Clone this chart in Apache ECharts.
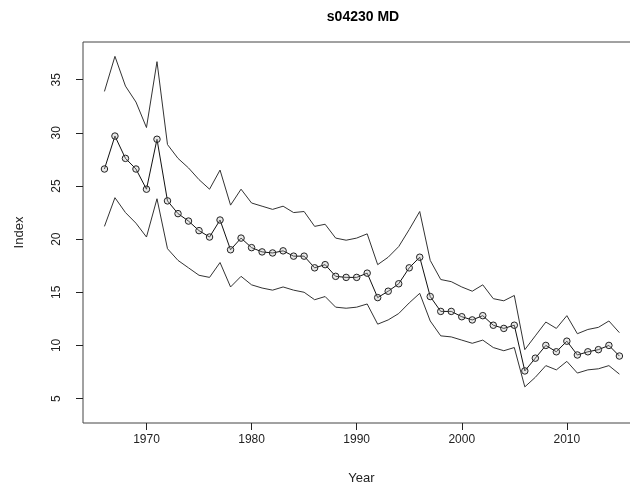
<!DOCTYPE html>
<html>
<head>
<meta charset="utf-8">
<script src="https://cdn.jsdelivr.net/npm/echarts@6/dist/echarts.min.js"></script>
<style>html,body{margin:0;padding:0;background:#fff}#c{width:630px;height:485px}</style>
</head>
<body>
<div id="c"></div>
<script>
var years = [1966,1967,1968,1969,1970,1971,1972,1973,1974,1975,1976,1977,1978,1979,1980,1981,1982,1983,1984,1985,1986,1987,1988,1989,1990,1991,1992,1993,1994,1995,1996,1997,1998,1999,2000,2001,2002,2003,2004,2005,2006,2007,2008,2009,2010,2011,2012,2013,2014,2015];
var indexMid = [26.6,29.7,27.6,26.6,24.7,29.4,23.6,22.4,21.7,20.8,20.2,21.8,19.0,20.1,19.2,18.8,18.7,18.9,18.4,18.4,17.3,17.6,16.5,16.4,16.4,16.8,14.5,15.1,15.8,17.3,18.3,14.6,13.2,13.2,12.7,12.4,12.8,11.9,11.6,11.9,7.6,8.8,10.0,9.4,10.4,9.1,9.4,9.6,10.0,9.0];
var indexUpper = [33.9,37.2,34.4,32.9,30.5,36.7,28.9,27.6,26.7,25.6,24.7,26.5,23.2,24.7,23.4,23.1,22.8,23.1,22.5,22.6,21.2,21.4,20.1,19.9,20.1,20.5,17.6,18.3,19.3,20.9,22.6,18.0,16.2,16.0,15.5,15.1,15.7,14.4,14.2,14.7,9.6,10.9,12.2,11.6,12.8,11.1,11.5,11.7,12.3,11.2];
var indexLower = [21.2,23.9,22.5,21.5,20.2,23.8,19.1,18.0,17.3,16.6,16.4,17.8,15.5,16.5,15.7,15.4,15.2,15.5,15.2,15.0,14.3,14.6,13.6,13.5,13.6,13.9,12.0,12.4,13.0,14.0,14.9,12.3,10.9,10.8,10.5,10.2,10.5,9.8,9.5,9.8,6.1,7.0,8.1,7.7,8.5,7.4,7.7,7.8,8.1,7.3];
var xTicks = [1970,1980,1990,2000,2010];
var yTicks = [5,10,15,20,25,30,35];

function pairs(v){ return years.map(function(y,i){ return [y, v[i]]; }); }

var chart = echarts.init(document.getElementById('c'), null, {renderer:'canvas'});
var font = 'Liberation Sans, Arial, sans-serif';
chart.setOption({
  animation:false,
  backgroundColor:'#fff',
  title:{text:'s04230 MD', left:358, textAlign:'center', top:5,
    textStyle:{fontFamily:font, fontWeight:'bold', fontSize:14, color:'#000'}},
  grid:{left:83, top:42, width:557, height:381, outerBoundsMode:'none', containLabel:false,
    show:true, borderColor:'#444', borderWidth:1, backgroundColor:'transparent'},
  xAxis:{type:'value', min:1963.96, max:2016.96,
    name:'Year', nameLocation:'middle', nameGap:49,
    nameTextStyle:{fontFamily:font, fontSize:13, color:'#222'},
    axisLine:{show:false}, splitLine:{show:false},
    axisTick:{show:true, length:7, customValues:xTicks, lineStyle:{color:'#222'}},
    axisLabel:{customValues:xTicks, margin:11, fontFamily:font, fontSize:12, color:'#222',
      formatter:function(v){ return String(v); }}},
  yAxis:{type:'value', min:2.7, max:38.55,
    name:'Index', nameLocation:'middle', nameGap:57, nameRotate:90,
    nameTextStyle:{fontFamily:font, fontSize:13, color:'#222'},
    axisLine:{show:false}, splitLine:{show:false},
    axisTick:{show:true, length:7, customValues:yTicks, lineStyle:{color:'#222'}},
    axisLabel:{customValues:yTicks, rotate:90, margin:20, fontFamily:font, fontSize:12, color:'#222'}},
  series:[
    {type:'line', data:pairs(indexUpper), showSymbol:false, symbol:'none', lineStyle:{color:'#333', width:1}, z:2},
    {type:'line', data:pairs(indexLower), showSymbol:false, symbol:'none', lineStyle:{color:'#333', width:1}, z:2},
    {type:'line', data:pairs(indexMid), symbol:'circle', symbolSize:6.5, lineStyle:{color:'#111', width:1},
      itemStyle:{color:'rgba(190,190,190,0.35)', borderColor:'#222', borderWidth:1}, z:3}
  ]
});
</script>
</body>
</html>
